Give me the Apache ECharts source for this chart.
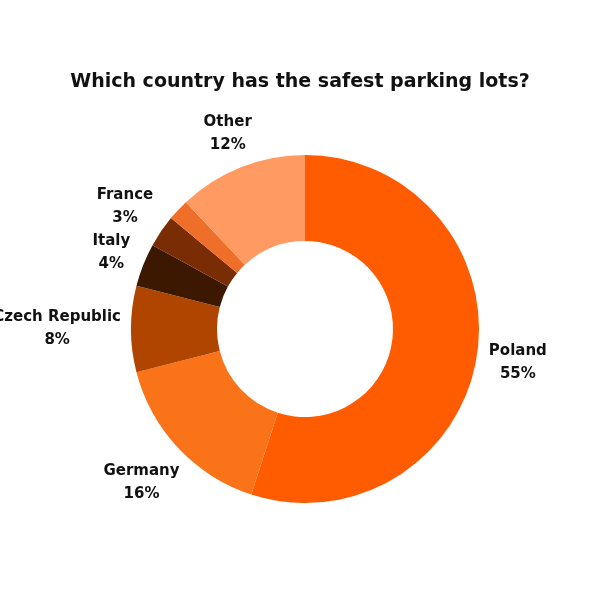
<!DOCTYPE html>
<html>
<head>
<meta charset="utf-8">
<script src="https://cdn.jsdelivr.net/npm/echarts@6/dist/echarts.min.js"></script>
<style>
  html, body { margin: 0; padding: 0; background: #fff; }
  #chart { width: 600px; height: 600px; }
</style>
</head>
<body>
<div id="chart"></div>
<script>
const countries = ["Poland", "Germany", "Czech Republic", "Italy", "France", "", "Other"];
const shares = [55, 16, 8, 4, 3, 2, 12];
const colors = ["#ff5b00", "#fa7319", "#b04500", "#3d1800", "#7a2d05", "#ee6e2a", "#ff9b62"];

const cx = 305;
const cy = 329;
const outer = 174;

function buildData() {
  let result = [];
  countries.forEach(function(name, i) {
    const item = { name: name, value: shares[i], itemStyle: { color: colors[i] } };
    if (!name) {
      item.label = { show: false };
    }
    result.push(item);
  });
  return result;
}

// middle angle of slice i, starting at 12 o'clock and going clockwise
function midAngle(i) {
  const total = shares.reduce((a, b) => a + b, 0);
  const before = shares.slice(0, i).reduce((a, b) => a + b, 0);
  return (90 - ((before + shares[i] / 2) / total) * 360) * Math.PI / 180;
}

const chart = echarts.init(document.getElementById("chart"));
chart.setOption({
  animation: false,
  title: {
    text: "Which country has the safest parking lots?",
    left: "center",
    top: 68,
    textStyle: {
      fontFamily: "DejaVu Sans",
      fontWeight: "bold",
      fontSize: 19,
      color: "#111",
    },
  },
  series: [
    {
      type: "pie",
      center: [cx, cy],
      radius: [88, outer],
      startAngle: 90,
      clockwise: true,
      avoidLabelOverlap: false,
      data: buildData(),
      label: {
        position: "outside",
        formatter: "{b}\n{c}%",
        fontFamily: "DejaVu Sans",
        fontWeight: "bold",
        fontSize: 15,
        lineHeight: 23,
        color: "#111",
      },
      labelLine: { show: false },
      labelLayout: function(params) {
        const a = midAngle(params.dataIndex);
        const dx = Math.cos(a);
        const dy = -Math.sin(a);
        const w = params.labelRect.width;
        const h = params.labelRect.height;
        const r = outer + 10 + Math.abs(dx) * w / 2 + Math.abs(dy) * h * 0.4;
        return {
          x: cx + dx * r,
          y: cy + dy * r,
          align: "center",
          verticalAlign: "middle",
        };
      },
    },
  ],
});
</script>
</body>
</html>
